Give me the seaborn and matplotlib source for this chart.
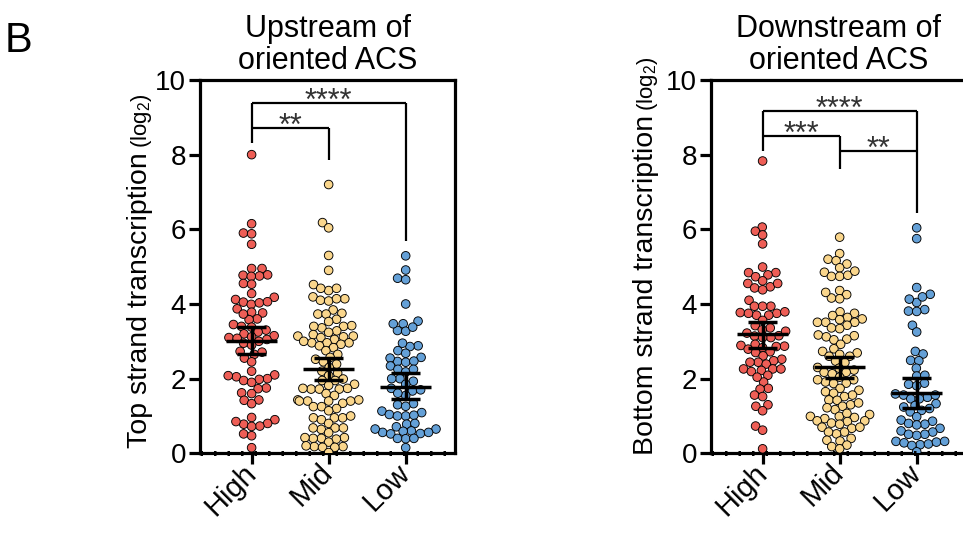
import numpy as np
import pandas as pd
import matplotlib
matplotlib.use("Agg")
import matplotlib.pyplot as plt
import seaborn as sns

# ---------------- data ----------------
categories = ["High", "Mid", "Low"]

up_high = [8.0, 6.15, 5.9, 5.88, 5.6, 4.95, 4.95, 4.78, 4.75, 4.77, 4.74, 4.55, 4.53,
           4.28, 4.18, 4.12, 4.05, 3.99, 4.03, 4.06, 3.87, 3.78, 3.76, 3.6, 3.58, 3.73,
           3.45, 3.4, 3.38, 3.3, 3.25, 3.2, 3.15, 3.12, 3.1, 3.08, 3.05, 3.0, 2.95, 2.9,
           2.73, 2.71, 2.65, 2.55, 2.45, 2.2, 2.1, 2.05, 2.08, 2.0, 1.98, 1.95, 1.9,
           1.75, 1.73, 1.6, 1.62, 1.42, 1.43, 1.33, 0.9, 0.96, 0.8, 0.78, 0.85, 0.73,
           0.72, 0.52, 0.47, 0.15]
up_mid = [7.2, 6.18, 6.04, 5.3, 4.9, 4.52, 4.36, 4.42, 4.42, 4.19, 4.14, 4.1, 4.08,
          4.14, 3.84, 3.75, 3.73, 3.73, 3.59, 3.53, 3.42, 3.4, 3.36, 3.4, 3.28, 3.24,
          3.18, 3.14, 3.14, 3.12, 3.1, 3.05, 2.96, 2.96, 2.96, 2.92, 3.0, 2.88, 2.83,
          2.75, 2.65, 2.57, 2.52, 2.45, 2.39, 2.3, 2.2, 2.15, 2.08, 1.99, 1.95, 1.95,
          1.85, 1.82, 1.74, 1.72, 1.74, 1.72, 1.72, 1.6, 1.55, 1.43, 1.4, 1.4, 1.43,
          1.4, 1.4, 1.34, 1.25, 1.25, 1.2, 1.14, 0.95, 0.9, 0.95, 0.95, 1.0, 0.8, 0.68,
          0.64, 0.68, 0.68, 0.55, 0.42, 0.38, 0.4, 0.4, 0.42, 0.3, 0.18, 0.2, 0.16,
          0.18, 0.16, 0.02]
up_low = [5.29, 4.91, 4.69, 4.65, 4.0, 3.54, 3.47, 3.29, 3.27, 3.38, 3.47, 2.88, 2.75,
          2.86, 2.95, 2.68, 2.57, 2.46, 2.55, 2.44, 2.47, 2.34, 2.25, 2.18, 2.25, 2.0,
          2.0, 1.93, 1.85, 1.74, 1.67, 1.7, 1.55, 1.61, 1.33, 1.3, 1.26, 1.13, 1.04,
          1.09, 1.0, 1.0, 1.02, 0.78, 0.8, 0.71, 0.65, 0.6, 0.56, 0.52, 0.53, 0.56,
          0.59, 0.65, 0.39, 0.4, 0.4, 0.15]

dn_high = [7.83, 6.06, 5.95, 5.85, 5.61, 4.99, 4.84, 4.78, 4.84, 4.73, 4.62, 4.55, 4.46,
           4.43, 4.55, 4.38, 4.1, 3.94, 3.94, 3.94, 3.77, 3.75, 3.7, 3.7, 3.75, 3.79,
           3.56, 3.42, 3.36, 3.15, 3.31, 3.27, 3.22, 3.14, 3.1, 3.1, 2.92, 2.89, 2.87,
           2.86, 2.83, 2.79, 2.72, 2.7, 2.61, 2.52, 2.48, 2.44, 2.44, 2.39, 2.26, 2.26,
           2.26, 2.22, 2.19, 2.09, 1.91, 2.04, 1.74, 1.72, 1.56, 1.52, 1.3, 1.26, 1.14,
           0.73, 0.62, 0.12]
dn_mid = [5.79, 5.35, 5.2, 5.07, 5.16, 4.97, 4.85, 4.74, 4.74, 4.77, 4.88, 4.36, 4.25,
          4.14, 4.16, 4.31, 3.79, 3.75, 3.69, 3.6, 3.64, 3.58, 3.51, 3.51, 3.51, 3.43,
          3.34, 3.36, 3.15, 3.17, 3.12, 3.06, 3.04, 2.92, 2.8, 2.73, 2.69, 2.6, 2.65,
          2.6, 2.47, 2.43, 2.3, 2.28, 2.23, 2.17, 2.17, 2.13, 2.04, 1.97, 1.91, 1.88,
          1.97, 1.87, 1.74, 1.69, 1.65, 1.61, 1.56, 1.52, 1.43, 1.42, 1.3, 1.26, 1.35,
          1.17, 1.22, 1.04, 0.99, 0.96, 0.93, 0.99, 1.07, 0.87, 0.81, 0.85, 0.87, 0.78,
          0.7, 0.67, 0.57, 0.52, 0.57, 0.7, 0.35, 0.33, 0.4, 0.22, 0.18, 0.12]
dn_low = [6.04, 5.75, 4.44, 4.26, 4.04, 4.13, 4.19, 3.85, 3.81, 3.8, 3.43, 3.25, 2.73,
          2.66, 2.49, 2.48, 2.28, 2.07, 2.09, 1.85, 1.88, 1.81, 1.59, 1.56, 1.5, 1.46,
          1.56, 1.46, 1.33, 1.28, 1.24, 1.2, 1.15, 1.11, 0.98, 0.89, 0.86, 0.8, 0.78,
          0.76, 0.67, 0.6, 0.57, 0.51, 0.48, 0.51, 0.32, 0.28, 0.23, 0.25, 0.3, 0.32,
          0.21, 0.04]

# mean and 95% CI as shown by the error bars
up_mean = [3.02, 2.26, 1.78]
up_ci_lo = [2.65, 1.96, 1.45]
up_ci_hi = [3.39, 2.56, 2.14]
dn_mean = [3.19, 2.32, 1.61]
dn_ci_lo = [2.83, 2.03, 1.21]
dn_ci_hi = [3.53, 2.59, 2.01]

titles = ["Upstream of\noriented ACS", "Downstream of\noriented ACS"]
ylabels = ["Top strand transcription", "Bottom strand transcription"]
y_ticks = [0, 2, 4, 6, 8, 10]

# ---------------- style ----------------
sns.set_style("white")
plt.rcParams["font.family"] = ["Liberation Sans", "DejaVu Sans"]
plt.rcParams["mathtext.fontset"] = "custom"
plt.rcParams["mathtext.rm"] = "Liberation Sans"
plt.rcParams["mathtext.default"] = "regular"
for k in ["text.color", "axes.labelcolor", "xtick.color", "ytick.color",
          "axes.edgecolor"]:
    plt.rcParams[k] = "black"

palette = {"High": "#EE5E56", "Mid": "#FAD68C", "Low": "#64A0D7"}
W, H = 963, 534
fig = plt.figure(figsize=(W / 100, H / 100), dpi=100)


def px_axes(l, t, r, b):
    return fig.add_axes([l / W, 1 - b / H, (r - l) / W, (b - t) / H])


ax1 = px_axes(200, 80, 455, 453.3)
ax2 = px_axes(711, 80, 966, 453.3)


def make_df(groups):
    rows = []
    for cat, vals in zip(categories, groups):
        rows += [(cat, v) for v in vals]
    return pd.DataFrame(rows, columns=["group", "value"])


def draw_panel(ax, groups, means, lo, hi, title):
    df = make_df(groups)
    sns.swarmplot(data=df, x="group", y="value", hue="group", order=categories,
                  hue_order=categories, palette=palette, size=5.0,
                  edgecolor="black", linewidth=0.65, legend=False, ax=ax,
                  warn_thresh=1.0)
    xs = np.arange(len(categories))
    lw = 2.5
    ax.hlines(means, xs - 0.33, xs + 0.33, colors="black", lw=lw, zorder=6)
    ax.vlines(xs, lo, hi, colors="black", lw=lw, zorder=6)
    ax.hlines(lo, xs - 0.19, xs + 0.19, colors="black", lw=lw, zorder=6)
    ax.hlines(hi, xs - 0.19, xs + 0.19, colors="black", lw=lw, zorder=6)

    ax.set_ylim(0, 10)
    ax.set_xlim(-0.67, 2.64)
    ax.set_yticks(y_ticks)
    ax.set_xlabel("")
    ax.set_ylabel("")
    for s in ax.spines.values():
        s.set_visible(True)
        s.set_linewidth(2.3)
        s.set_color("black")
        s.set_capstyle("projecting")
    ax.axhline(0, color="black", lw=3.6, ls=(0, (0.5, 2.2)), zorder=5, clip_on=False)
    ax.tick_params(axis="both", direction="out", length=8, width=2.3,
                   color="black", labelsize=20, pad=2, left=True, bottom=True)
    ax.tick_params(axis="x", pad=3)
    plt.setp(ax.get_xticklabels(), rotation=45, ha="right", va="center",
             rotation_mode="anchor", fontsize=21)
    ax.set_title(title, fontsize=22, pad=8, linespacing=1.1)


draw_panel(ax1, [up_high, up_mid, up_low], up_mean, up_ci_lo, up_ci_hi, titles[0])
draw_panel(ax2, [dn_high, dn_mid, dn_low], dn_mean, dn_ci_lo, dn_ci_hi, titles[1])


def bracket(ax, segs):
    for (x0, y0, x1, y1) in segs:
        ax.plot([x0, x1], [y0, y1], color="black", lw=1.6, solid_capstyle="butt",
                clip_on=False, zorder=7)


def stars(ax, x, y, txt):
    ax.annotate(txt, xy=(x, y), xytext=(0, -7), textcoords="offset pixels",
                ha="center", va="baseline", fontsize=22, color="#333333",
                annotation_clip=False)


# left panel significance
bracket(ax1, [(0, 9.38, 0, 8.32), (0, 9.38, 2, 9.38), (2, 9.38, 2, 5.69),
              (0, 8.72, 1, 8.72), (1, 8.72, 1, 7.86)])
stars(ax1, 0.5, 8.72, "**")
stars(ax1, 1.0, 9.38, "****")

# right panel significance
bracket(ax2, [(0, 9.18, 0, 8.11), (0, 9.18, 2, 9.18), (2, 9.18, 2, 6.45),
              (0, 8.5, 1, 8.5), (1, 8.5, 1, 7.62), (1, 8.1, 2, 8.1)])
stars(ax2, 0.5, 8.5, "***")
stars(ax2, 1.5, 8.1, "**")
stars(ax2, 1.0, 9.18, "****")

# first draw: seaborn lays out the swarms; then freeze them and enlarge
# the markers slightly so they overlap a little, as in the reference
fig.canvas.draw()
for ax in (ax1, ax2):
    for coll in ax.collections:
        if "draw" in coll.__dict__:
            del coll.__dict__["draw"]
            coll.set_sizes([6.2 ** 2])

renderer = fig.canvas.get_renderer()
for (xb, ystart), lab in zip([(147, 448), (653, 455)], ylabels):
    t = fig.text(xb / W, 1 - ystart / H, lab, rotation=90, rotation_mode="anchor",
                 ha="left", va="baseline", fontsize=20.5)
    bb = t.get_window_extent(renderer)
    fig.text(xb / W, (bb.y1 + 4) / H, "(log$_2$)", rotation=90, rotation_mode="anchor",
             ha="left", va="baseline", fontsize=16)

fig.text(5 / W, 1 - 52 / H, "B", fontsize=30, ha="left", va="baseline")

fig.savefig("out.png", dpi=100)
